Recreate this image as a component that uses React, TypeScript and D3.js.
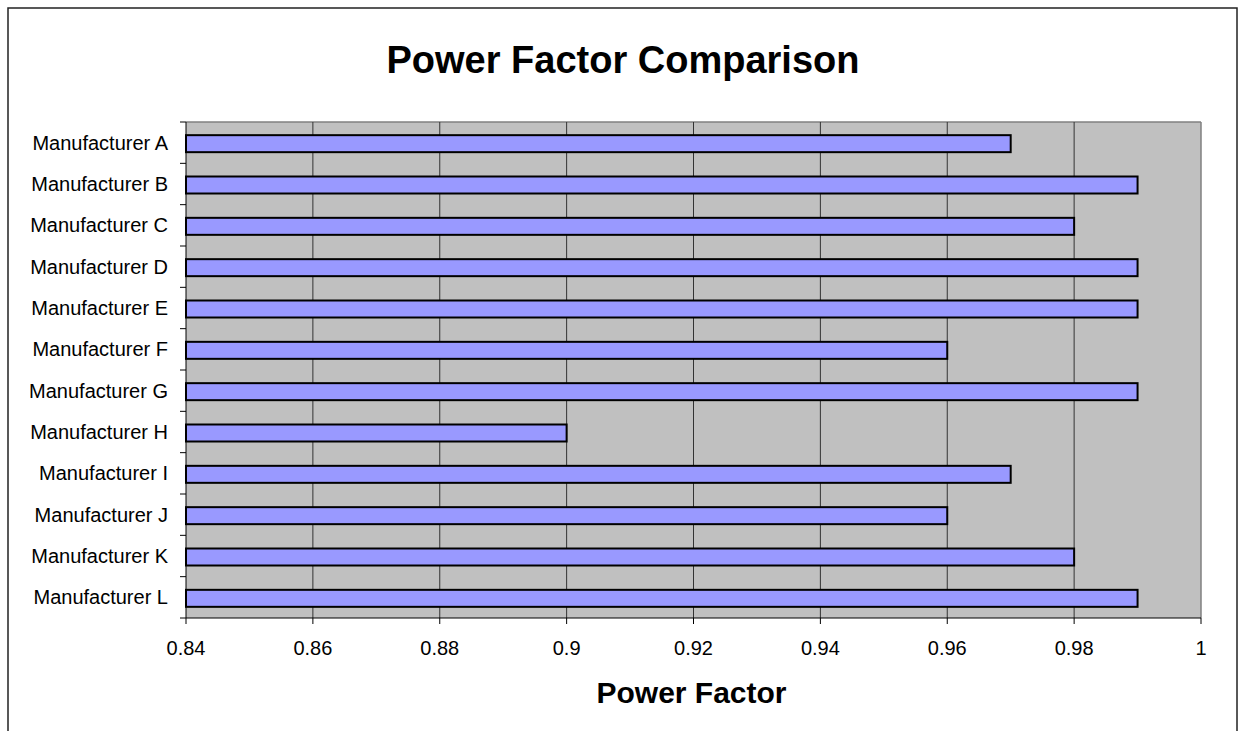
import React from "react";
import * as d3 from "d3";

const categories = [
  "Manufacturer A", "Manufacturer B", "Manufacturer C", "Manufacturer D",
  "Manufacturer E", "Manufacturer F", "Manufacturer G", "Manufacturer H",
  "Manufacturer I", "Manufacturer J", "Manufacturer K", "Manufacturer L",
];
const powerFactor = [0.97, 0.99, 0.98, 0.99, 0.99, 0.96, 0.99, 0.9, 0.97, 0.96, 0.98, 0.99];
const xTicks = [0.84, 0.86, 0.88, 0.9, 0.92, 0.94, 0.96, 0.98, 1];
const xTickLabels = ["0.84", "0.86", "0.88", "0.9", "0.92", "0.94", "0.96", "0.98", "1"];
const titleText = "Power Factor Comparison";
const xAxisTitle = "Power Factor";

const W = 1244;
const H = 731;
const plot = { left: 186, top: 122, right: 1201, bottom: 618 };
const font = "'Liberation Sans', Arial, sans-serif";

export default function App() {
  const x = d3.scaleLinear().domain([0.84, 1]).range([plot.left, plot.right]);
  const y = d3.scaleBand<string>().domain(categories).range([plot.top, plot.bottom]).padding(0);
  const step = y.step();
  const barH = 17;
  const boundaries = d3.range(categories.length + 1).map((i) => plot.top + i * step);

  return (
    <svg width={W} height={H} style={{ position: "absolute", left: 0, top: 0, background: "#fff" }} fontFamily={font}>
      <rect x={8} y={8} width={1229} height={760} fill="#fff" stroke="#222" strokeWidth={1.5} />
      <text x={623} y={73} textAnchor="middle" fontSize={38} fontWeight="bold" fill="#000">{titleText}</text>

      <rect x={plot.left} y={plot.top} width={plot.right - plot.left} height={plot.bottom - plot.top} fill="#C0C0C0" />
      <line x1={plot.left} x2={plot.right} y1={plot.top} y2={plot.top} stroke="#808080" strokeWidth={1.5} />
      <line x1={plot.right} x2={plot.right} y1={plot.top} y2={plot.bottom} stroke="#808080" strokeWidth={1.5} />

      {xTicks.slice(1, -1).map((t) => (
        <line key={"g" + t} x1={x(t)} x2={x(t)} y1={plot.top} y2={plot.bottom} stroke="#333" strokeWidth={1} />
      ))}

      {categories.map((c, i) => (
        <rect key={c} x={x(0.84)} y={(y(c) as number) + (step - barH) / 2 + 1} width={x(powerFactor[i]) - x(0.84)} height={barH}
          fill="#9999FF" stroke="#000" strokeWidth={2} />
      ))}

      <line x1={plot.left} x2={plot.left} y1={plot.top} y2={plot.bottom} stroke="#000" strokeWidth={1} />
      <line x1={plot.left} x2={plot.right} y1={plot.bottom} y2={plot.bottom} stroke="#000" strokeWidth={1} />
      {boundaries.map((b, i) => (
        <line key={"yt" + i} x1={plot.left - 6} x2={plot.left} y1={b} y2={b} stroke="#000" strokeWidth={1} />
      ))}
      {xTicks.map((t) => (
        <line key={"xt" + t} x1={x(t)} x2={x(t)} y1={plot.bottom} y2={plot.bottom + 6} stroke="#000" strokeWidth={1} />
      ))}

      {categories.map((c) => (
        <text key={"l" + c} x={168} y={(y(c) as number) + step / 2 + 7} textAnchor="end" fontSize={20} fill="#000">{c}</text>
      ))}
      {xTicks.map((t, i) => (
        <text key={"xl" + t} x={x(t)} y={655} textAnchor="middle" fontSize={20} fill="#000">{xTickLabels[i]}</text>
      ))}
      <text x={(plot.left + plot.right) / 2 - 2} y={703} textAnchor="middle" fontSize={30} fontWeight="bold" fill="#000">{xAxisTitle}</text>
    </svg>
  );
}
